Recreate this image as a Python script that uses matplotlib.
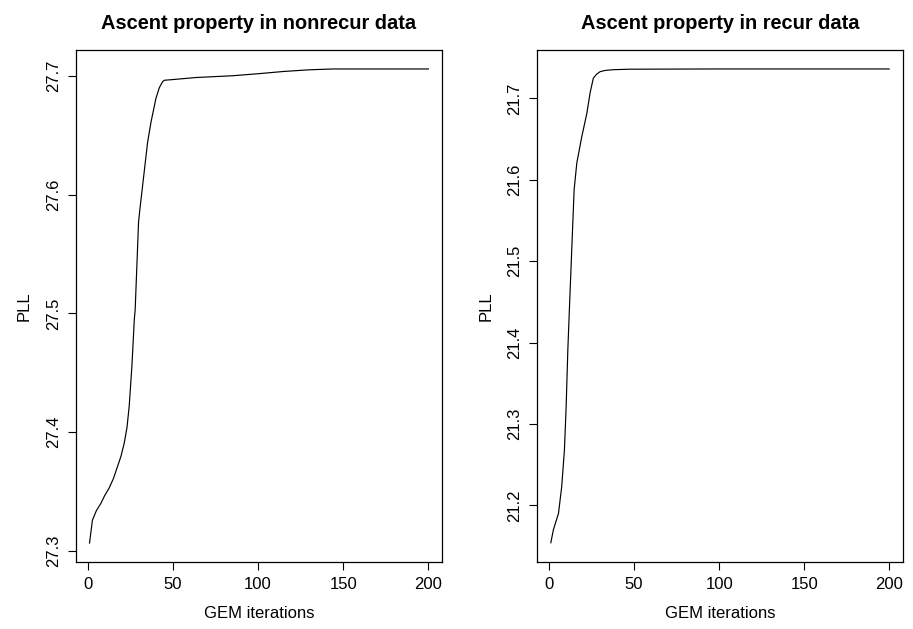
import matplotlib
matplotlib.use("Agg")
import matplotlib.pyplot as plt

plt.rcParams['font.family'] = ['Liberation Sans', 'DejaVu Sans']

# GEM iterations vs PLL
nonrecur_iter = [1, 2.7, 5, 7.6, 10, 12.5, 15, 17.4, 19.5, 21.4, 23, 24.3, 25.9,
                 27.3, 27.8, 28.8, 29.8, 30.6, 33.1, 35.1, 37.1, 40, 42, 43.9, 45,
                 50, 63.5, 85, 100, 115, 130, 144, 170, 200]
nonrecur_pll = [27.3068, 27.326, 27.334, 27.340, 27.347, 27.353, 27.361, 27.371,
                27.380, 27.391, 27.404, 27.422, 27.456, 27.495, 27.503, 27.540,
                27.577, 27.588, 27.619, 27.644, 27.661, 27.681, 27.690, 27.695,
                27.6962, 27.6968, 27.6985, 27.700, 27.7017, 27.7036, 27.7050,
                27.7057, 27.7057, 27.7057]

recur_iter = [1, 2.5, 4, 5.5, 7.4, 9, 10, 11, 11.9, 13.3, 14.7, 16.3, 19.2, 22.2,
              24.1, 26, 28, 30, 33, 37.8, 47.6, 100, 200]
recur_pll = [21.154, 21.170, 21.180, 21.190, 21.223, 21.268, 21.321, 21.391,
             21.440, 21.514, 21.588, 21.621, 21.653, 21.682, 21.707, 21.725,
             21.730, 21.733, 21.7345, 21.7354, 21.736, 21.7363, 21.7363]

titles = ['Ascent property in nonrecur data', 'Ascent property in recur data']
x_ticks = [0, 50, 100, 150, 200]
y_ticks = [[27.3, 27.4, 27.5, 27.6, 27.7],
           [21.2, 21.3, 21.4, 21.5, 21.6, 21.7]]

fig = plt.figure(figsize=(9.13, 6.29), dpi=100)
ax1 = fig.add_axes([0.0832, 0.1065, 0.4009, 0.814])
ax2 = fig.add_axes([0.5885, 0.1070, 0.4002, 0.8135])

for ax, xs, ys, title, yt in zip([ax1, ax2], [nonrecur_iter, recur_iter],
                                 [nonrecur_pll, recur_pll], titles, y_ticks):
    ax.plot(xs, ys, color='black', linewidth=0.85)
    ax.margins(x=0.04, y=0.04)
    ax.set_xticks(x_ticks)
    ax.set_yticks(yt)
    ax.set_yticklabels(['%.1f' % v for v in yt], rotation=90, va='center')
    ax.tick_params(direction='out', length=6, width=0.8, labelsize=12, pad=5,
                   color='black')
    for s in ax.spines.values():
        s.set_linewidth(0.9)
        s.set_color('black')
    ax.set_title(title, fontsize=14.4, fontweight='bold', pad=15)
    ax.set_xlabel('GEM iterations', fontsize=12, labelpad=10)
    ax.set_ylabel('PLL', fontsize=12, labelpad=10)

plt.savefig('out.png', dpi=100)
